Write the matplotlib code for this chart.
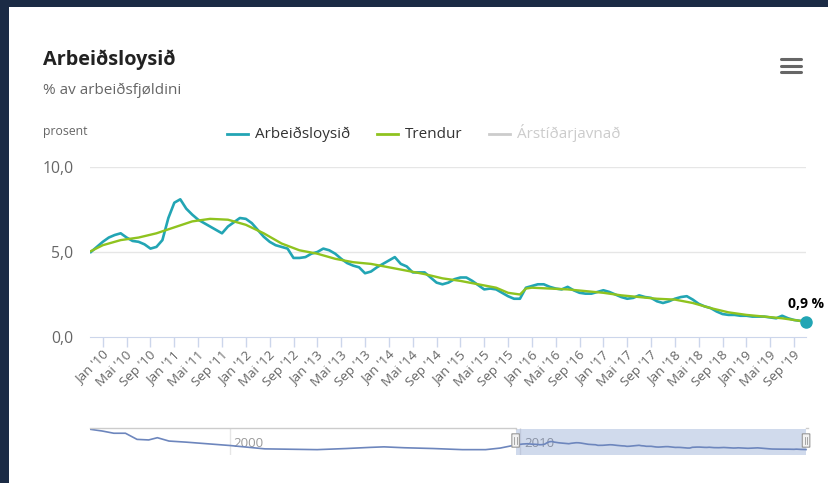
import matplotlib

matplotlib.use("Agg")
import matplotlib.pyplot as plt
import numpy as np
from matplotlib.patches import Rectangle, FancyBboxPatch
from matplotlib.lines import Line2D
from matplotlib.transforms import ScaledTranslation

plt.rcParams['font.family'] = ['Open Sans', 'DejaVu Sans']

# monthly unemployment, Nov 2009 .. Nov 2019 (month offset from Jan 2010)
start_month = -2
arbeidsloysid = [
    5.0, 5.3,
    5.6, 5.85, 6.0, 6.1, 5.85, 5.65, 5.6, 5.45, 5.2, 5.3, 5.7, 7.0,
    7.9, 8.1, 7.55, 7.2, 6.9, 6.7, 6.5, 6.3, 6.1, 6.5, 6.75, 7.0,
    6.95, 6.7, 6.3, 5.9, 5.6, 5.4, 5.3, 5.2, 4.65, 4.65, 4.7, 4.9,
    5.0, 5.2, 5.1, 4.9, 4.6, 4.35, 4.2, 4.1, 3.75, 3.85, 4.1, 4.3,
    4.5, 4.7, 4.3, 4.15, 3.8, 3.8, 3.8, 3.5, 3.2, 3.1, 3.2, 3.4,
    3.5, 3.5, 3.3, 3.05, 2.8, 2.85, 2.8, 2.6, 2.4, 2.25, 2.25, 2.9,
    3.0, 3.1, 3.1, 2.95, 2.85, 2.8, 2.95, 2.75, 2.6, 2.55, 2.55, 2.65,
    2.75, 2.65, 2.5, 2.35, 2.25, 2.3, 2.45, 2.35, 2.3, 2.1, 2.0, 2.1,
    2.25, 2.35, 2.4, 2.2, 1.95, 1.8, 1.7, 1.5, 1.35, 1.3, 1.3, 1.25,
    1.25, 1.2, 1.2, 1.2, 1.15, 1.1, 1.25, 1.1, 1.0, 0.95, 0.9,
]

# trend, read at knots (month offset from Jan 2010)
trend_months = [-2, 0, 3, 6, 9, 12, 15, 18, 21, 24, 27, 30, 33, 36, 39, 42,
                45, 48, 51, 54, 57, 60, 63, 66, 68, 70, 71, 72, 75, 78, 81,
                84, 87, 90, 93, 96, 99, 102, 105, 108, 111, 114, 116, 118]
trendur = [5.05, 5.4, 5.7, 5.85, 6.1, 6.45, 6.8, 6.95, 6.9, 6.6, 6.1, 5.5,
           5.1, 4.9, 4.6, 4.4, 4.3, 4.1, 3.9, 3.7, 3.45, 3.3, 3.1, 2.9,
           2.6, 2.5, 2.85, 2.9, 2.85, 2.8, 2.7, 2.6, 2.45, 2.35, 2.25, 2.2,
           2.0, 1.7, 1.45, 1.3, 1.2, 1.1, 1.0, 0.9]

# navigator history before the main window (decimal years)
nav_years = [1995.2, 1995.6, 1996.0, 1996.4, 1996.8, 1997.2, 1997.5, 1997.9,
             1998.5, 1999.0, 1999.5, 2000.0, 2000.6, 2001.2, 2002.0, 2003.0,
             2004.0, 2004.8, 2005.3, 2006.0, 2007.0, 2008.0, 2008.8, 2009.3]
nav_values = [19.0, 17.5, 15.5, 15.5, 10.0, 9.5, 11.5, 8.5, 7.5, 6.5, 5.5,
              4.5, 3.0, 1.5, 1.2, 0.8, 1.8, 2.8, 3.3, 2.5, 1.8, 0.8, 0.8, 2.2]

tick_months = list(range(0, 117, 4))
month_names = {0: "Jan", 4: "Mai", 8: "Sep"}
tick_labels = [f"{month_names[m % 12]} '{10 + m // 12:02d}" for m in tick_months]

TEAL = "#22a5b4"
GREEN = "#8fc31f"
W, H = 829, 483


def fx(px):
    return px / W


def fy(py):
    return 1 - py / H


fig = plt.figure(figsize=(W / 100, H / 100), dpi=100)
fig.patch.set_facecolor("#1b2b45")
fig.patches.append(Rectangle((fx(9), 0), 1 - fx(9), fy(7), transform=fig.transFigure,
                             facecolor="white", edgecolor="none", zorder=-1))

# header
fig.text(fx(43), fy(65), "Arbeiðsloysið", fontsize=14.3, fontweight="bold",
         color="#222222", va="baseline")
fig.text(fx(43), fy(94), "% av arbeiðsfjøldini", fontsize=11, color="#666666",
         va="baseline")
fig.text(fx(43), fy(135), "prosent", fontsize=8.8, color="#666666", va="baseline")

# hamburger menu
for py in (59, 65.5, 72):
    fig.add_artist(Line2D([fx(781), fx(801)], [fy(py), fy(py)], transform=fig.transFigure,
                          color="#666666", lw=2.2, solid_capstyle="round"))

# legend
legend_items = [("Arbeiðsloysið", TEAL, "#333333", 227),
                ("Trendur", GREEN, "#333333", 377),
                ("Árstíðarjavnað", "#cccccc", "#cccccc", 489)]
for name, lc, tc, px in legend_items:
    fig.add_artist(Line2D([fx(px), fx(px + 21)], [fy(134), fy(134)],
                          transform=fig.transFigure, color=lc, lw=2))
    fig.text(fx(px + 28), fy(138.5), name, fontsize=11, color=tc, va="baseline")

# main chart
ax = fig.add_axes([fx(90), fy(337), fx(806) - fx(90), fy(167) - fy(337)])
ax.set_xlim(-2.15, 118.0)
ax.set_ylim(0, 10)
for s in ("top", "right", "left"):
    ax.spines[s].set_visible(False)
ax.spines["bottom"].set_color("#ccd6eb")
ax.set_facecolor("none")
for yv in (5, 10):
    ax.axhline(yv, color="#e6e6e6", lw=1, zorder=1)

ax.set_yticks([0, 5, 10])
ax.set_yticklabels(["0,0", "5,0", "10,0"])
ax.tick_params(axis="y", length=0, pad=12, labelsize=11.3, labelcolor="#666666")

ax.set_xticks(tick_months)
ax.set_xticklabels(tick_labels, rotation=45, ha="right", va="center",
                   rotation_mode="anchor")
ax.tick_params(axis="x", length=7.5, width=1, color="#ccd6eb", pad=4,
               labelsize=9.6, labelcolor="#666666")
shift = ScaledTranslation(0.035, 0, fig.dpi_scale_trans)
for lab in ax.get_xticklabels():
    lab.set_transform(lab.get_transform() + shift)

months = np.arange(start_month, start_month + len(arbeidsloysid))
ax.plot(months, arbeidsloysid, color=TEAL, lw=1.9, zorder=3,
        solid_joinstyle="round")
ax.plot(trend_months, trendur, color=GREEN, lw=1.7, zorder=4,
        solid_joinstyle="round")
ax.plot(months[-1], arbeidsloysid[-1], "o", color=TEAL, ms=8, zorder=5, clip_on=False)
ax.annotate(f"{arbeidsloysid[-1]:.1f} %".replace(".", ","),
            (months[-1], arbeidsloysid[-1]), xytext=(0, 10), textcoords="offset points",
            ha="center", va="baseline", fontsize=10, fontweight="bold", color="#000000",
            annotation_clip=False)

# navigator
nav = fig.add_axes([fx(90), fy(455), fx(808) - fx(90), fy(428) - fy(455)])
nav.set_xlim(1995.18, 2019.9)
nav.set_ylim(-4.0, 20.2)
nav.set_axis_off()
for yr in (2000, 2010):
    nav.axvline(yr, color="#e6e6e6", lw=1, zorder=1)
    nav.text(yr + 0.12, 6.5, str(yr), fontsize=9.5, color="#999999", va="center", zorder=2)
main_years = 2010 + months / 12
all_years = list(nav_years) + list(main_years)
all_values = list(nav_values) + list(arbeidsloysid)
nav.plot(all_years, all_values, color="#6d86bd", lw=1.2, zorder=3)
sel0, sel1 = main_years[0], main_years[-1]
nav.add_patch(Rectangle((sel0, -4.0), sel1 - sel0, 23.0, facecolor="#6685c2", alpha=0.3,
                        edgecolor="none", zorder=2))
nav.plot([1995.18, sel0, sel0], [20.2, 20.2, 19.0], color="#cccccc", lw=1, zorder=4,
         clip_on=False)
nav.plot([sel1, 2019.9], [20.2, 20.2], color="#cccccc", lw=1, zorder=4, clip_on=False)
for hx in (sel0, sel1):
    hb = FancyBboxPatch((hx - 0.13, 3.0), 0.26, 12.0,
                        boxstyle="round,pad=0,rounding_size=0.05",
                        facecolor="#f2f2f2", edgecolor="#999999", lw=0.8, zorder=5,
                        clip_on=False)
    nav.add_patch(hb)
    for dx in (-0.04, 0.04):
        nav.plot([hx + dx, hx + dx], [6.0, 12.0], color="#999999", lw=0.6, zorder=6,
                 clip_on=False)

fig.savefig("out.png", dpi=100, facecolor=fig.get_facecolor())
